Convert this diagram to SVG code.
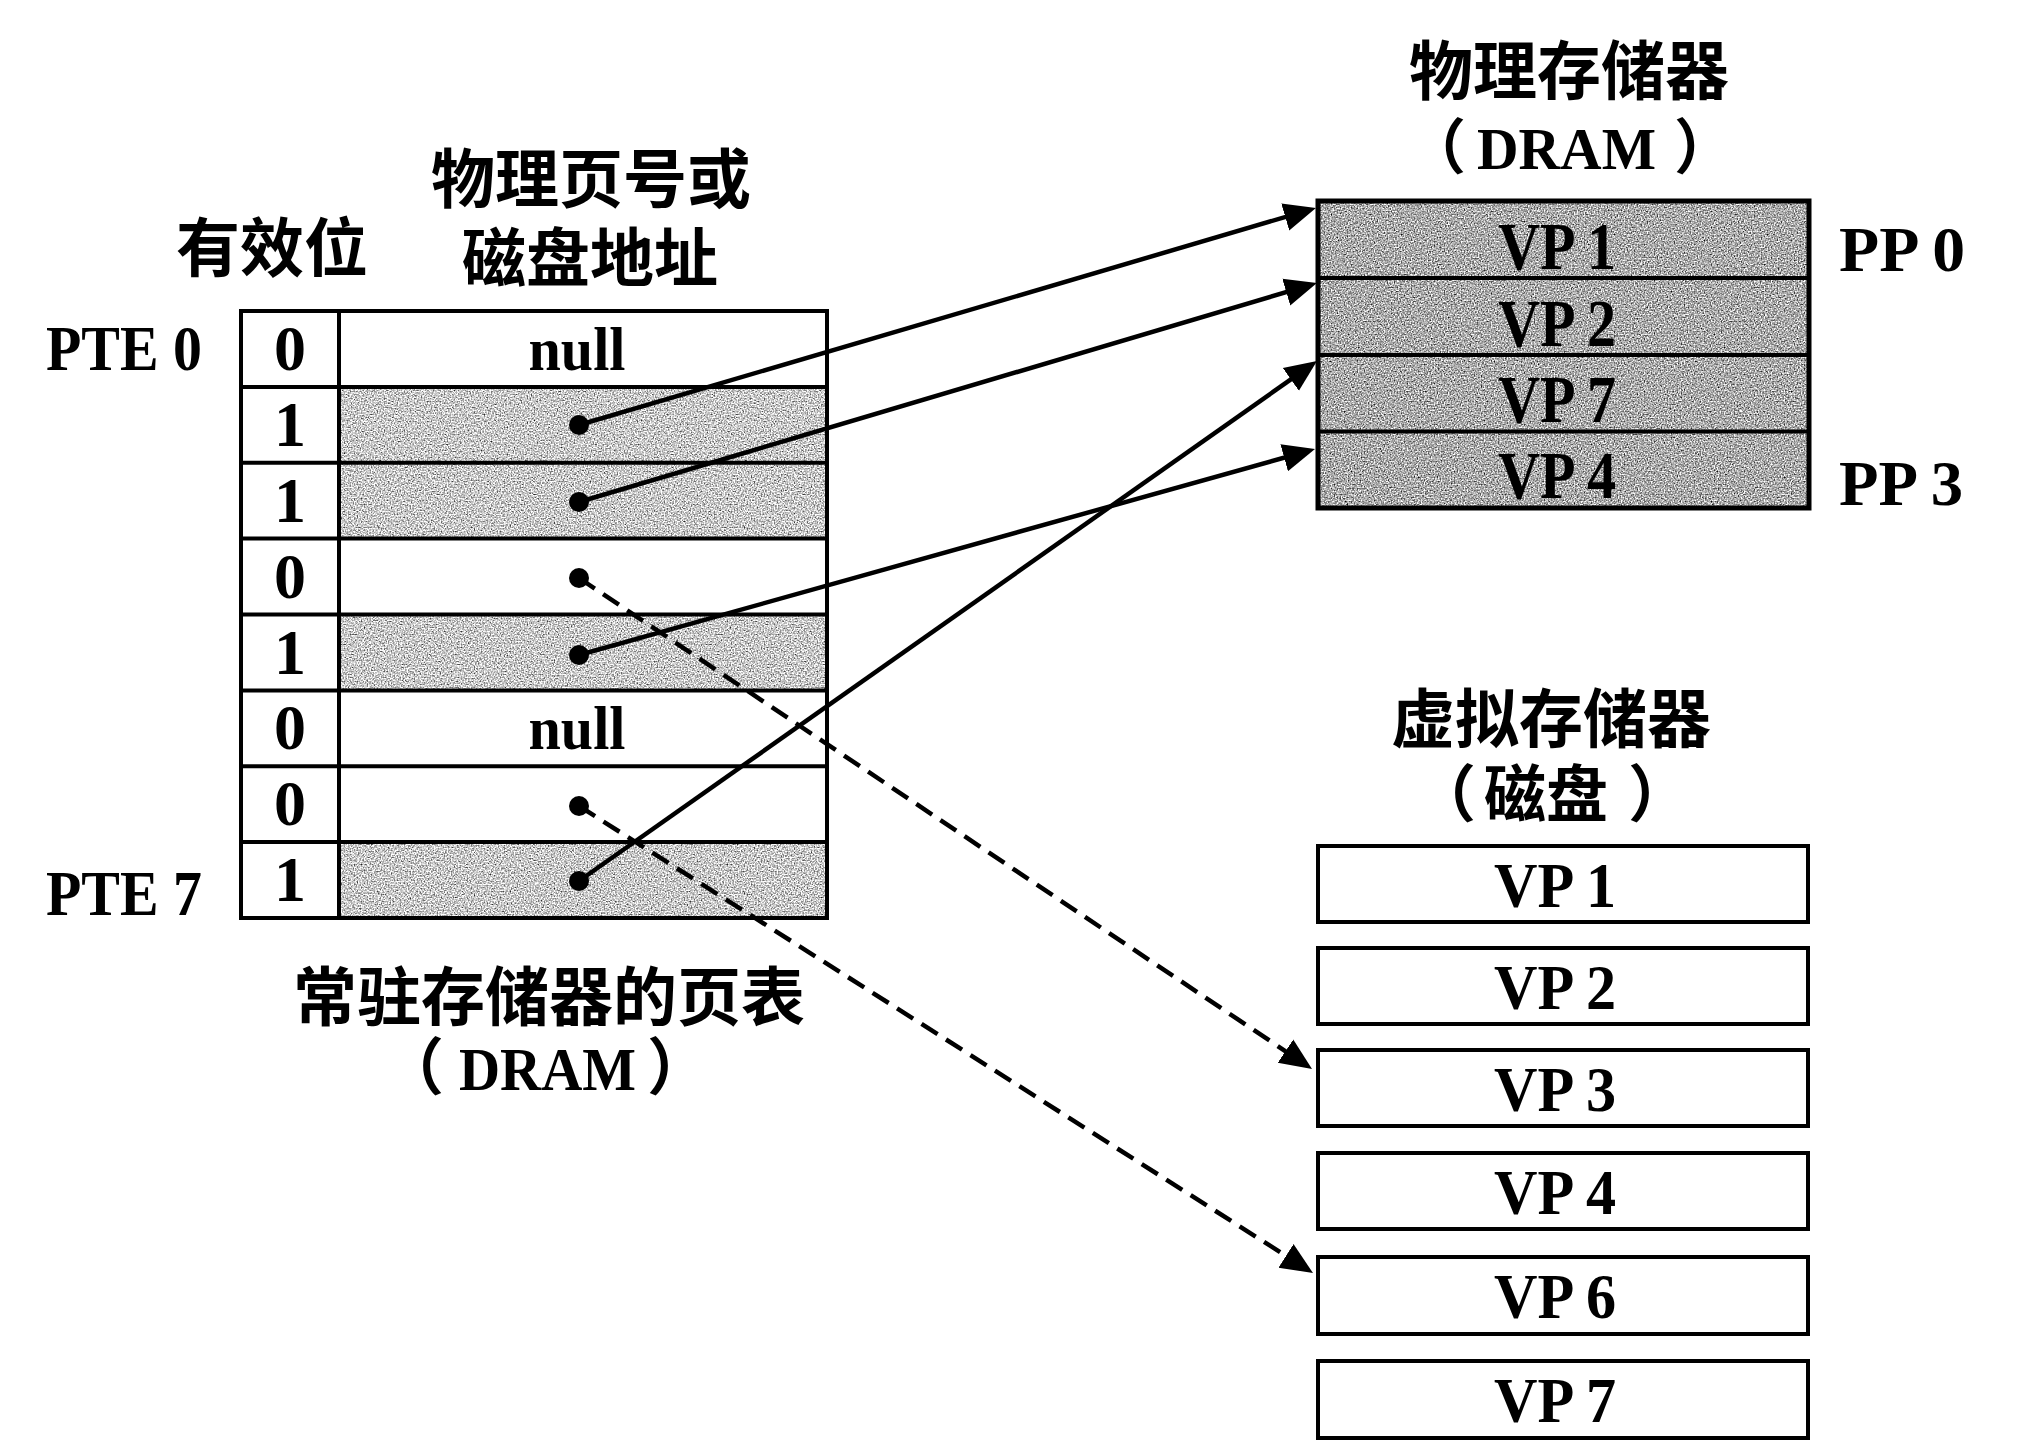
<svg xmlns="http://www.w3.org/2000/svg" width="2026" height="1446" viewBox="0 0 2026 1446">
<style>
.lat{font-family:"Liberation Serif","Times New Roman",serif;font-weight:bold;fill:#000}
.cjk{font-family:"Noto Sans CJK SC","Noto Sans",sans-serif;font-weight:bold;fill:#000}
.cell{fill:#fff;stroke:#000;stroke-width:4}
.line{stroke:#000;stroke-width:4;fill:none}
.solid{stroke:#000;stroke-width:4.5;fill:none;marker-end:url(#ah)}
.dash{stroke:#000;stroke-width:4.5;fill:none;stroke-dasharray:19 10;marker-end:url(#ah)}
.dot{fill:#000}
</style>
<defs>
<marker id="ah" markerUnits="userSpaceOnUse" markerWidth="34" markerHeight="30" refX="21" refY="15" orient="auto" viewBox="0 0 34 30">
<path d="M0,1 L32,15 L0,29 Z" fill="#000"/>
</marker>
<filter id="grainL" x="0" y="0" width="1" height="1" color-interpolation-filters="sRGB">
<feTurbulence type="fractalNoise" baseFrequency="0.7" numOctaves="1" seed="4"/>
<feColorMatrix type="matrix" values="0.33 0.33 0.33 0 0 0.33 0.33 0.33 0 0 0.33 0.33 0.33 0 0 0 0 0 0 1"/>
<feComponentTransfer>
<feFuncR type="linear" slope="2.8" intercept="-0.6"/>
<feFuncG type="linear" slope="2.8" intercept="-0.6"/>
<feFuncB type="linear" slope="2.8" intercept="-0.6"/>
</feComponentTransfer>
</filter>
<filter id="grainD" x="0" y="0" width="1" height="1" color-interpolation-filters="sRGB">
<feTurbulence type="fractalNoise" baseFrequency="0.7" numOctaves="1" seed="9"/>
<feColorMatrix type="matrix" values="0.33 0.33 0.33 0 0 0.33 0.33 0.33 0 0 0.33 0.33 0.33 0 0 0 0 0 0 1"/>
<feComponentTransfer>
<feFuncR type="linear" slope="2.8" intercept="-0.72"/>
<feFuncG type="linear" slope="2.8" intercept="-0.72"/>
<feFuncB type="linear" slope="2.8" intercept="-0.72"/>
</feComponentTransfer>
</filter>
</defs>
<rect width="2026" height="1446" fill="#fff"/>

<!-- Page table headers -->
<g id="hdr-valid"><text class="cjk" x="272" y="271" font-size="64" text-anchor="middle">有效位</text></g>
<g id="hdr-addr">
<text class="cjk" x="591" y="202" font-size="64" text-anchor="middle">物理页号或</text>
<text class="cjk" x="590" y="281" font-size="64" text-anchor="middle">磁盘地址</text>
</g>
<g id="lbl-pte0"><text class="lat" x="46" y="370" font-size="64" textLength="156" lengthAdjust="spacingAndGlyphs">PTE 0</text></g>
<g id="lbl-pte7"><text class="lat" x="46" y="915" font-size="64" textLength="156" lengthAdjust="spacingAndGlyphs">PTE 7</text></g>

<!-- Page table -->
<g id="page-table">
<rect x="339" y="386.9" width="488" height="75.9" filter="url(#grainL)"/>
<rect x="339" y="462.8" width="488" height="75.9" filter="url(#grainL)"/>
<rect x="339" y="614.5" width="488" height="75.9" filter="url(#grainL)"/>
<rect x="339" y="842.1" width="488" height="75.9" filter="url(#grainL)"/>
<rect x="241" y="311" width="586" height="607" fill="none" stroke="#000" stroke-width="4"/>
<line class="line" x1="339" y1="311" x2="339" y2="918"/>
<line class="line" x1="241" y1="386.9" x2="827" y2="386.9"/>
<line class="line" x1="241" y1="462.8" x2="827" y2="462.8"/>
<line class="line" x1="241" y1="538.6" x2="827" y2="538.6"/>
<line class="line" x1="241" y1="614.5" x2="827" y2="614.5"/>
<line class="line" x1="241" y1="690.4" x2="827" y2="690.4"/>
<line class="line" x1="241" y1="766.3" x2="827" y2="766.3"/>
<line class="line" x1="241" y1="842.1" x2="827" y2="842.1"/>
<g class="lat" font-size="64" text-anchor="middle">
<text x="290" y="370">0</text>
<text x="290" y="446">1</text>
<text x="290" y="522">1</text>
<text x="290" y="598">0</text>
<text x="290" y="674">1</text>
<text x="290" y="749">0</text>
<text x="290" y="825">0</text>
<text x="290" y="901">1</text>
</g>
<text class="lat" x="577" y="370" font-size="62" text-anchor="middle" textLength="97" lengthAdjust="spacingAndGlyphs">null</text>
<text class="lat" x="577" y="749" font-size="62" text-anchor="middle" textLength="97" lengthAdjust="spacingAndGlyphs">null</text>
</g>
<g id="lbl-pagetable">
<text class="cjk" x="549" y="1020" font-size="64" text-anchor="middle">常驻存储器的页表</text>
<text class="cjk" font-size="62"><tspan x="382" y="1090">（</tspan><tspan class="lat" x="459" y="1090" font-size="62" textLength="177" lengthAdjust="spacingAndGlyphs">DRAM</tspan><tspan x="647" y="1090">）</tspan></text>
</g>

<!-- Physical memory -->
<g id="hdr-phys">
<text class="cjk" x="1569" y="94" font-size="64" text-anchor="middle">物理存储器</text>
<text class="cjk" font-size="60"><tspan x="1406" y="169">（</tspan><tspan class="lat" x="1477" y="169" font-size="60" textLength="179" lengthAdjust="spacingAndGlyphs">DRAM</tspan><tspan x="1674" y="169">）</tspan></text>
</g>
<g id="phys-mem">
<rect x="1318" y="201" width="491" height="307" filter="url(#grainD)"/>
<rect x="1318" y="201" width="491" height="307" fill="none" stroke="#000" stroke-width="5"/>
<line class="line" x1="1318" y1="278" x2="1809" y2="278" stroke-width="5"/>
<line class="line" x1="1318" y1="355" x2="1809" y2="355" stroke-width="5"/>
<line class="line" x1="1318" y1="431.5" x2="1809" y2="431.5" stroke-width="5"/>
<g class="lat" font-size="68" text-anchor="middle">
<text x="1557" y="269" textLength="118" lengthAdjust="spacingAndGlyphs">VP 1</text>
<text x="1557" y="346" textLength="118" lengthAdjust="spacingAndGlyphs">VP 2</text>
<text x="1557" y="422" textLength="118" lengthAdjust="spacingAndGlyphs">VP 7</text>
<text x="1557" y="498" textLength="118" lengthAdjust="spacingAndGlyphs">VP 4</text>
</g>
</g>
<g id="lbl-pp0"><text class="lat" x="1839" y="271" font-size="64" textLength="126" lengthAdjust="spacingAndGlyphs">PP 0</text></g>
<g id="lbl-pp3"><text class="lat" x="1839" y="505" font-size="64" textLength="124" lengthAdjust="spacingAndGlyphs">PP 3</text></g>

<!-- Virtual memory -->
<g id="hdr-virt">
<text class="cjk" x="1551" y="742" font-size="64" text-anchor="middle">虚拟存储器</text>
<text class="cjk" font-size="62"><tspan x="1414" y="817">（</tspan><tspan x="1484" y="817">磁盘</tspan><tspan x="1628" y="817">）</tspan></text>
</g>
<g id="virt-vp1"><rect class="cell" x="1318" y="846" width="490" height="76"/><text class="lat" x="1555" y="907" font-size="64" text-anchor="middle" textLength="122" lengthAdjust="spacingAndGlyphs">VP 1</text></g>
<g id="virt-vp2"><rect class="cell" x="1318" y="948" width="490" height="76"/><text class="lat" x="1555" y="1009" font-size="64" text-anchor="middle" textLength="122" lengthAdjust="spacingAndGlyphs">VP 2</text></g>
<g id="virt-vp3"><rect class="cell" x="1318" y="1050" width="490" height="76"/><text class="lat" x="1555" y="1111" font-size="64" text-anchor="middle" textLength="122" lengthAdjust="spacingAndGlyphs">VP 3</text></g>
<g id="virt-vp4"><rect class="cell" x="1318" y="1153" width="490" height="76"/><text class="lat" x="1555" y="1214" font-size="64" text-anchor="middle" textLength="122" lengthAdjust="spacingAndGlyphs">VP 4</text></g>
<g id="virt-vp6"><rect class="cell" x="1318" y="1257" width="490" height="77"/><text class="lat" x="1555" y="1318" font-size="64" text-anchor="middle" textLength="122" lengthAdjust="spacingAndGlyphs">VP 6</text></g>
<g id="virt-vp7"><rect class="cell" x="1318" y="1361" width="490" height="77"/><text class="lat" x="1555" y="1422" font-size="64" text-anchor="middle" textLength="122" lengthAdjust="spacingAndGlyphs">VP 7</text></g>

<!-- Connectors -->
<g id="connectors">
<circle class="dot" cx="579" cy="425" r="10"/>
<circle class="dot" cx="579" cy="502" r="10"/>
<circle class="dot" cx="579" cy="578" r="10"/>
<circle class="dot" cx="579" cy="655" r="10"/>
<circle class="dot" cx="579" cy="806" r="10"/>
<circle class="dot" cx="579" cy="881" r="10"/>
<line class="solid" x1="579" y1="425" x2="1305.4" y2="211.1"/>
<line class="solid" x1="579" y1="502" x2="1306.4" y2="286.1"/>
<line class="solid" x1="579" y1="655" x2="1304.4" y2="452.0"/>
<line class="solid" x1="579" y1="881" x2="1308.0" y2="367.3"/>
<line class="dash" x1="579" y1="578" x2="1302.9" y2="1062.9"/>
<line class="dash" x1="579" y1="806" x2="1303.7" y2="1267.1"/>
</g>
</svg>
